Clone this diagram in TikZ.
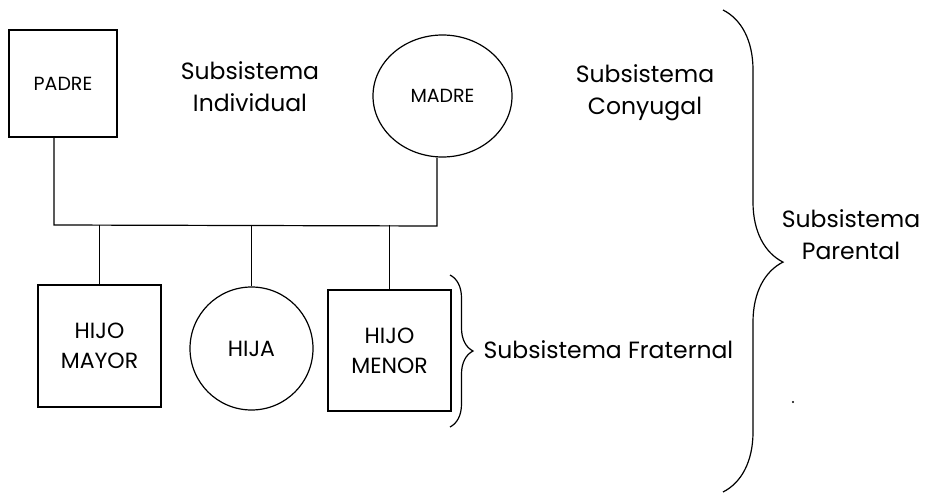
\documentclass[tikz,border=0pt]{standalone}
\usepackage{fontspec}
\setmainfont{Poppins}
\usetikzlibrary{shapes.geometric,decorations.pathreplacing}
\begin{document}
\begin{tikzpicture}[x=1pt,y=-1pt,
  line width=1.2pt,
  person/.style={draw,inner sep=0pt,align=center},
  parentfont/.style={font=\fontsize{19}{24}\selectfont},
  childfont/.style={font=\fontsize{22}{30}\selectfont},
  male/.style={person,rectangle},
  female/.style={person,ellipse},
  lbl/.style={font=\fontsize{23.5}{32}\selectfont,align=center,inner sep=0pt},
  bracestyle/.style={decorate,decoration={brace,amplitude=#1}},
]
\useasboundingbox (0,0) rectangle (925,494);
% parents
\node[male,parentfont,minimum width=108pt,minimum height=107pt] (padre) at (63,83.5) {PADRE};
\node[female,parentfont,minimum width=139pt,minimum height=122pt] (madre) at (442.5,96) {MADRE};
% children
\node[male,childfont,minimum width=123pt,minimum height=122pt] (mayor) at (99.5,346) {HIJO\\MAYOR};
\node[person,childfont,circle,minimum size=123pt] (hija) at (251.5,348.5) {HIJA};
\node[male,childfont,minimum width=123pt,minimum height=121pt] (menor) at (389.5,350.5) {HIJO\\MENOR};
% bar
\coordinate (bl) at (54,225);
\coordinate (br) at (437,226);
\draw (padre.south -| bl) -- (bl) -- (br) -- (br |- madre.south);
\draw (mayor.north |- bl) -- (mayor.north);
\draw (hija.north |- bl) -- (hija.north);
\draw (menor.north |- bl) -- (menor.north);
% labels
\node[lbl] (indiv) at (250,87) {Subsistema\\Individual};
\node[lbl] (conyugal) at (645,93) {Subsistema\\Conyugal};
% braces
\coordinate (fbt) at (450,275);
\coordinate (fbb) at (450,427);
\draw[bracestyle=23pt] (fbt) -- (fbb);
\node[lbl,anchor=west] (fraternal) at (483,350) {Subsistema Fraternal};
\coordinate (pbt) at (723,10);
\coordinate (pbb) at (723,492);
\draw[decorate,decoration={brace,amplitude=60pt,aspect=0.523}] (pbt) -- (pbb);
\node[lbl] (parental) at (851,235) {Subsistema\\Parental};
\fill (793,402) circle (1.2pt);
\end{tikzpicture}
\end{document}
